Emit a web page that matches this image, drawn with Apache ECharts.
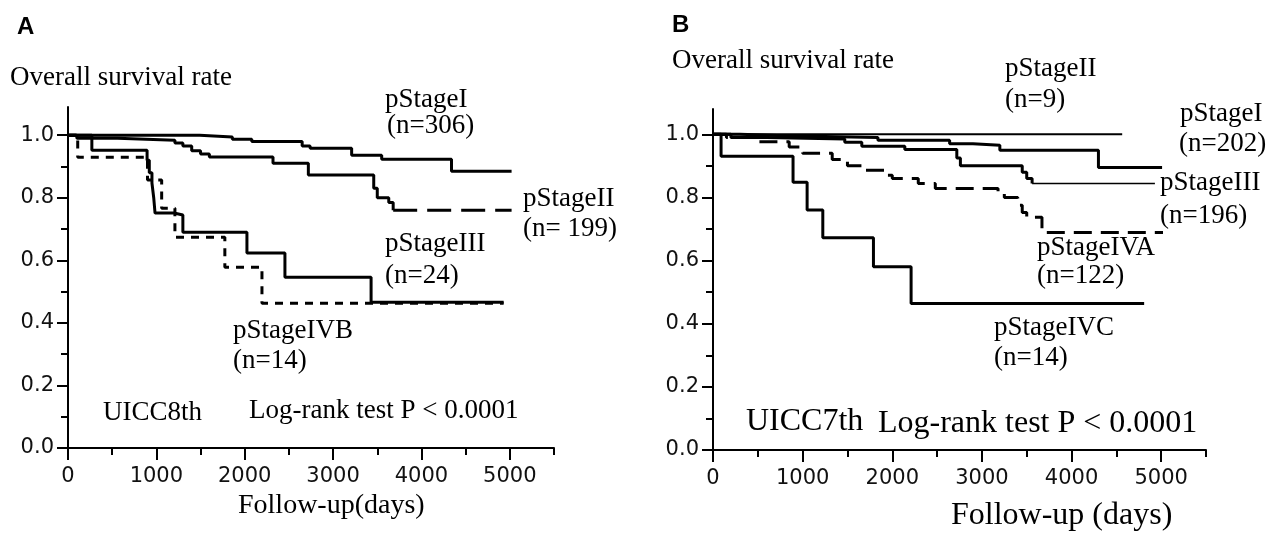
<!DOCTYPE html>
<html>
<head>
<meta charset="utf-8">
<script src="https://cdn.jsdelivr.net/npm/echarts@6/dist/echarts.min.js"></script>
<style>
html, body { margin: 0; padding: 0; background: #fff; }
#chart { width: 1273px; height: 533px; }
</style>
</head>
<body>
<div id="chart"></div>
<script>
// axis ticks
var xTicks = [0, 1000, 2000, 3000, 4000, 5000];
var xMinor = [500, 1500, 2500, 3500, 4500, 5500];
var yTicks = [0, 0.2, 0.4, 0.6, 0.8, 1.0];
var yMinor = [0.1, 0.3, 0.5, 0.7, 0.9];

// panel A, UICC8th : [days, survival]
var aStageI = [[0, 1], [1490, 0.994], [1860, 0.987], [2080, 0.98], [2650, 0.965], [2740, 0.958], [3210, 0.936], [3550, 0.923], [4340, 0.885], [5020, 0.885]];
var aStageII = [[0, 1], [100, 0.99], [560, 0.984], [1210, 0.975], [1300, 0.965], [1400, 0.95], [1500, 0.94], [1600, 0.93], [2320, 0.91], [2720, 0.873], [3460, 0.83], [3500, 0.80], [3630, 0.785], [3680, 0.76]];
var aStageIITail = [[3680, 0.76], [5020, 0.76]];
var aStageIII = [[0, 1], [270, 0.952], [895, 0.92], [920, 0.88], [950, 0.847], [970, 0.80], [985, 0.751], [1200, 0.745], [1300, 0.69], [2025, 0.623], [2455, 0.546], [3430, 0.466], [4930, 0.466]];
var aStageIVB = [[0, 1], [110, 0.929], [900, 0.857], [1060, 0.766], [1210, 0.674], [1775, 0.578], [2195, 0.463], [4930, 0.463]];

// panel B, UICC7th
var bStageII = [[0, 1], [4565, 1]];
var bStageI = [[0, 1], [300, 0.995], [800, 0.99], [1840, 0.981], [2640, 0.97], [2900, 0.965], [3200, 0.949], [4300, 0.895], [5010, 0.895]];
var bStageIII = [[0, 1], [200, 0.99], [600, 0.985], [1470, 0.975], [1660, 0.962], [2140, 0.952], [2720, 0.925], [2760, 0.90], [3450, 0.88], [3500, 0.86], [3560, 0.844]];
var bStageIIITail = [[3560, 0.844], [4930, 0.844]];
var bStageIVA = [[0, 1], [150, 0.99], [500, 0.976], [850, 0.96], [1000, 0.94], [1330, 0.92], [1500, 0.90], [1660, 0.886], [1950, 0.87], [2000, 0.86], [2290, 0.844], [2480, 0.828], [3180, 0.816], [3250, 0.80], [3400, 0.775], [3450, 0.752], [3500, 0.737], [3670, 0.689], [5020, 0.689]];
var bStageIVC = [[0, 1], [90, 0.93], [893, 0.848], [1050, 0.76], [1225, 0.672], [1790, 0.58], [2210, 0.464], [4810, 0.464]];

var SERIF = '"Liberation Serif", "Times New Roman", serif';
var SANS = '"DejaVu Sans", Verdana, sans-serif';

// [text, x, y, font size, bold sans]
var labels = [
  ['A', 17, 27, 24, true],
  ['Overall survival rate', 10, 78, 27],
  ['pStageI', 385, 100, 27],
  ['(n=306)', 387, 126, 27],
  ['pStageII', 523, 199, 27],
  ['(n= 199)', 523, 229, 27],
  ['pStageIII', 385, 244, 27],
  ['(n=24)', 385, 276, 27],
  ['pStageIVB', 233, 331, 27],
  ['(n=14)', 233, 361, 27],
  ['UICC8th', 103, 413, 27],
  ['Log-rank test P < 0.0001', 249, 411, 27],
  ['Follow-up(days)', 238, 506, 28],
  ['B', 672, 25, 24, true],
  ['Overall survival rate', 672, 61, 27],
  ['pStageII', 1005, 69, 27],
  ['(n=9)', 1005, 100, 27],
  ['pStageI', 1180, 114, 27],
  ['(n=202)', 1179, 144, 27],
  ['pStageIII', 1160, 183, 27],
  ['(n=196)', 1160, 216, 27],
  ['pStageIVA', 1037, 248, 27],
  ['(n=122)', 1037, 276, 27],
  ['pStageIVC', 994, 328, 27],
  ['(n=14)', 994, 358, 27],
  ['UICC7th', 746, 422, 32],
  ['Log-rank test P < 0.0001', 878, 424, 32],
  ['Follow-up (days)', 951, 516, 32]
];

function mainAxis(g, max, ticks, isX) {
  return {
    type: 'value', gridIndex: g, min: 0, max: max,
    position: isX ? 'bottom' : 'left',
    axisLine: { show: true, onZero: false, lineStyle: { color: '#000', width: 2 } },
    axisTick: { show: true, customValues: ticks, length: isX ? 12 : 11, lineStyle: { color: '#000', width: 2 } },
    axisLabel: {
      customValues: ticks, margin: isX ? 18 : 14,
      fontFamily: SANS, fontSize: 21, color: '#111',
      formatter: function (v) { return isX ? String(v) : v.toFixed(1); }
    },
    splitLine: { show: false }
  };
}
function minorAxis(g, max, ticks, isX) {
  return {
    type: 'value', gridIndex: g, min: 0, max: max,
    position: isX ? 'bottom' : 'left',
    axisLine: { show: false },
    axisTick: { show: true, customValues: ticks, length: 7, lineStyle: { color: '#000', width: 2 } },
    axisLabel: { show: false },
    splitLine: { show: false }
  };
}
function km(data, g, width, dash) {
  return {
    type: 'line', data: data, step: 'end', symbol: 'none', silent: true,
    xAxisIndex: g * 2, yAxisIndex: g * 2,
    lineStyle: { color: '#000', width: width, type: dash || 'solid' }
  };
}

var chart = echarts.init(document.getElementById('chart'));
chart.setOption({
  animation: false,
  backgroundColor: '#fff',
  grid: [
    { left: 68, top: 107, width: 486, height: 341 },
    { left: 713, top: 109, width: 493, height: 341 }
  ],
  xAxis: [
    mainAxis(0, 5500, xTicks, true), minorAxis(0, 5500, xMinor, true),
    mainAxis(1, 5500, xTicks, true), minorAxis(1, 5500, xMinor, true)
  ],
  yAxis: [
    mainAxis(0, 1.09, yTicks, false), minorAxis(0, 1.09, yMinor, false),
    mainAxis(1, 1.08, yTicks, false), minorAxis(1, 1.08, yMinor, false)
  ],
  series: [
    km(aStageI, 0, 3),
    km(aStageII, 0, 3),
    km(aStageIITail, 0, 3, [24, 10]),
    km(aStageIII, 0, 3),
    km(aStageIVB, 0, 3, [8, 7]),
    km(bStageII, 1, 2),
    km(bStageI, 1, 3),
    km(bStageIII, 1, 3),
    km(bStageIIITail, 1, 1.5),
    km(bStageIVA, 1, 3, [18, 9]),
    km(bStageIVC, 1, 3)
  ],
  graphic: labels.map(function (l) {
    return {
      type: 'text', x: l[1], y: l[2], silent: true,
      style: {
        text: l[0], fill: '#000', verticalAlign: 'middle',
        font: (l[4] ? 'bold ' : '') + l[3] + 'px ' + (l[4] ? '"Liberation Sans", Arial, sans-serif' : SERIF)
      }
    };
  })
});
</script>
</body>
</html>
